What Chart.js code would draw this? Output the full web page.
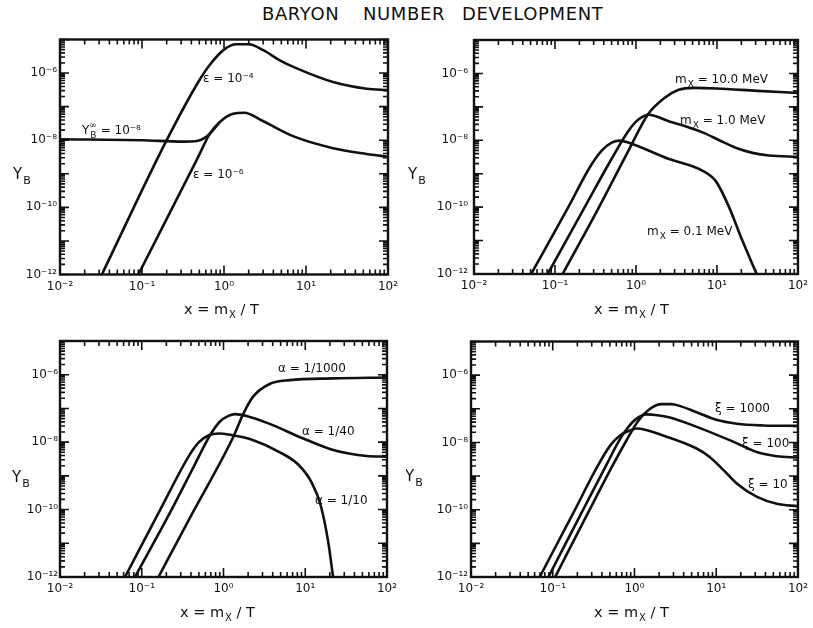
<!DOCTYPE html>
<html>
<head>
<meta charset="utf-8">
<title>Baryon number development</title>
<script src="https://cdn.jsdelivr.net/npm/chart.js@4.4.1/dist/chart.umd.min.js"></script>
<style>
  body { margin: 0; background: #fff; }
  #page { position: relative; width: 813px; height: 628px; overflow: hidden; background: #fff; }
  .word { position: absolute; top: 3px; font: 18px 'DejaVu Sans', sans-serif; letter-spacing: 0.6px; color: #111; }
  canvas { position: absolute; }
</style>
</head>
<body>
<div id="page">
  <span class="word" style="left:262px">BARYON</span>
  <span class="word" style="left:363px">NUMBER</span>
  <span class="word" style="left:462px">DEVELOPMENT</span>
  <canvas id="p1" width="406" height="300" style="left:0px;top:26px"></canvas>
  <canvas id="p2" width="407" height="300" style="left:406px;top:26px"></canvas>
  <canvas id="p3" width="406" height="302" style="left:0px;top:326px"></canvas>
  <canvas id="p4" width="407" height="302" style="left:406px;top:326px"></canvas>
</div>
<script>
// axis ticks (log-log, x = m_X/T, Y_B)
const xTicks = [0.01, 0.1, 1, 10, 100];
const xTickLabels = ['10⁻²', '10⁻¹', '10⁰', '10¹', '10²'];
const yTicks = [1e-12, 1e-10, 1e-8, 1e-6];
const yTickLabels = ['10⁻¹²', '10⁻¹⁰', '10⁻⁸', '10⁻⁶'];

// panel 1: epsilon
const eps4X = [0.0324, 0.200, 0.490, 0.676, 1.00, 1.41, 2.00, 3.02, 4.79, 7.59, 21.4, 55.0, 100];
const eps4Y = [1e-12, 1.0e-8, 5.6e-7, 1.8e-6, 5.0e-6, 7.2e-6, 7.2e-6, 4.8e-6, 2.4e-6, 1.4e-6, 5.4e-7, 3.4e-7, 3.1e-7];
const eps6X = [0.0902, 0.465, 0.676, 0.891, 1.26, 1.78, 2.82, 7.08, 21.4, 55.0, 100];
const eps6Y = [1e-12, 2.6e-9, 1.6e-8, 3.5e-8, 6.0e-8, 6.6e-8, 4.0e-8, 1.3e-8, 5.8e-9, 3.9e-9, 3.2e-9];
const yInfX = [0.01, 0.1, 0.316, 0.468, 0.575, 0.676, 0.891];
const yInfY = [1.07e-8, 1.0e-8, 9.1e-9, 9.5e-9, 1.15e-8, 1.6e-8, 3.5e-8];

// panel 2: m_X
const m01X = [0.0508, 0.149, 0.275, 0.380, 0.501, 0.631, 0.813, 2.51, 6.76, 9.77, 14.1, 20.4, 30.9];
const m01Y = [1e-12, 1.1e-10, 1.7e-9, 5.0e-9, 8.5e-9, 9.8e-9, 8.5e-9, 2.8e-9, 1.2e-9, 5.8e-10, 1.0e-10, 1.05e-11, 1e-12];
const m1X = [0.0813, 0.251, 0.501, 0.794, 1.00, 1.20, 1.42, 2.63, 4.17, 6.76, 10.7, 17.0, 27.5, 43.7, 100];
const m1Y = [1e-12, 1.4e-10, 2.8e-9, 1.8e-8, 3.6e-8, 5.0e-8, 5.8e-8, 3.6e-8, 2.6e-8, 1.7e-8, 1.0e-8, 6.0e-9, 4.2e-9, 3.5e-9, 3.2e-9];
const m10X = [0.124, 0.316, 0.794, 1.41, 2.29, 3.31, 5.25, 10, 31.6, 100];
const m10Y = [1e-12, 6.3e-11, 4.5e-9, 6.0e-8, 1.9e-7, 3.2e-7, 3.7e-7, 3.55e-7, 3.0e-7, 2.6e-7];

// panel 3: alpha
const a10X = [0.0624, 0.160, 0.380, 0.501, 0.661, 0.871, 1.20, 2.19, 4.90, 8.32, 12.0, 15.5, 19.1, 21.9];
const a10Y = [1e-12, 7.8e-11, 4.0e-9, 1.0e-8, 1.6e-8, 1.8e-8, 1.66e-8, 1.2e-8, 5.0e-9, 2.1e-9, 6.3e-10, 1.3e-10, 1.1e-11, 1e-12];
const a40X = [0.0826, 0.220, 0.447, 0.684, 0.906, 1.15, 1.38, 1.91, 3.55, 9.33, 20.0, 35.5, 56.2, 100];
const a40Y = [1e-12, 7.8e-11, 2.2e-9, 1.6e-8, 4.1e-8, 6.0e-8, 6.8e-8, 6.0e-8, 3.6e-8, 1.3e-8, 6.3e-9, 4.5e-9, 3.9e-9, 3.7e-9];
const a1000X = [0.160, 0.417, 1.32, 1.74, 2.29, 3.72, 6.46, 21.9, 100];
const a1000Y = [1e-12, 7.8e-11, 1.45e-8, 6.8e-8, 2.2e-7, 5.4e-7, 6.9e-7, 7.8e-7, 8.3e-7];

// panel 4: xi
const xi10X = [0.0692, 0.178, 0.355, 0.501, 0.676, 0.891, 1.07, 2.24, 5.75, 8.32, 12.3, 17.8, 31.6, 55.0, 100];
const xi10Y = [1e-12, 7.9e-11, 2.0e-9, 7.9e-9, 1.66e-8, 2.3e-8, 2.6e-8, 1.6e-8, 6.6e-9, 3.7e-9, 1.5e-9, 6.0e-10, 2.4e-10, 1.5e-10, 1.26e-10];
const xi100X = [0.0885, 0.224, 0.447, 0.631, 0.805, 1.05, 1.41, 2.00, 2.72, 5.78, 14.8, 31.3, 55.0, 100];
const xi100Y = [1e-12, 7.9e-11, 2.0e-9, 1.0e-8, 2.5e-8, 5.0e-8, 6.8e-8, 6.3e-8, 5.5e-8, 2.9e-8, 1.15e-8, 5.2e-9, 3.9e-9, 3.55e-9];
const xi1000X = [0.107, 0.269, 0.537, 0.794, 1.12, 1.55, 2.14, 2.82, 3.63, 5.75, 10, 17.8, 38.0, 100];
const xi1000Y = [1e-12, 7.9e-11, 2.0e-9, 1.12e-8, 4.5e-8, 1.0e-7, 1.38e-7, 1.38e-7, 1.2e-7, 7.9e-8, 4.7e-8, 3.6e-8, 3.2e-8, 3.1e-8];

Chart.defaults.font.family = "'DejaVu Sans', sans-serif";
Chart.defaults.color = '#111';

const INK = '#111';
const FONT = "'DejaVu Sans', sans-serif";

// text with sub/superscripts: parts = [[text, sub, sup], ...]
function drawRich(ctx, parts, x, y, size) {
  ctx.textBaseline = 'middle';
  ctx.textAlign = 'left';
  ctx.fillStyle = INK;
  parts.forEach(([t, sub, sup]) => {
    if (t) {
      ctx.font = size + 'px ' + FONT;
      ctx.fillText(t, x, y);
      x += ctx.measureText(t).width;
    }
    let w = 0;
    ctx.font = Math.round(size * 0.72) + 'px ' + FONT;
    if (sup) { ctx.fillText(sup, x, y - size * 0.45); w = ctx.measureText(sup).width; }
    if (sub) { ctx.fillText(sub, x + 1, y + size * 0.4); w = Math.max(w, ctx.measureText(sub).width + 1); }
    x += w;
  });
}

function makePanel(id, box, series, notes) {
  const canvas = document.getElementById(id);
  const ox = parseFloat(canvas.style.left);
  const oy = parseFloat(canvas.style.top);

  // inward frame ticks, frame and annotations
  const decor = {
    id: 'decor',
    afterDraw(chart) {
      const { ctx, chartArea: a, scales } = chart;
      ctx.save();
      ctx.strokeStyle = INK;
      ctx.lineWidth = 1.6;
      ctx.beginPath();
      for (let d = -2; d <= 2; d++) {
        for (let k = 1; k <= 9; k++) {
          const v = k * Math.pow(10, d);
          if (v > 100.5) break;
          const px = scales.x.getPixelForValue(v);
          const len = k === 1 ? 9 : 5;
          ctx.moveTo(px, a.bottom); ctx.lineTo(px, a.bottom - len);
          ctx.moveTo(px, a.top); ctx.lineTo(px, a.top + len);
        }
      }
      for (let d = -12; d <= -5; d++) {
        for (let k = 1; k <= 9; k++) {
          const v = k * Math.pow(10, d);
          if (v > 1.05e-5) break;
          const py = scales.y.getPixelForValue(v);
          const len = k === 1 ? 9 : 5;
          ctx.moveTo(a.left, py); ctx.lineTo(a.left + len, py);
          ctx.moveTo(a.right, py); ctx.lineTo(a.right - len, py);
        }
      }
      ctx.stroke();
      ctx.lineWidth = 2.4;
      ctx.strokeRect(a.left, a.top, a.right - a.left, a.bottom - a.top);
      notes.forEach(n => drawRich(ctx, n.parts, n.at[0] - ox, n.at[1] - oy, n.size || 12));
      ctx.restore();
    }
  };

  return new Chart(canvas, {
    type: 'line',
    data: {
      datasets: series.map(s => ({
        data: s[0].map((x, i) => ({ x: x, y: s[1][i] })),
        borderColor: INK,
        borderWidth: 2.6,
        pointRadius: 0,
        cubicInterpolationMode: 'monotone',
        fill: false
      }))
    },
    options: {
      responsive: false,
      animation: false,
      events: [],
      layout: { padding: { left: 0, top: box.t - oy, right: ox + canvas.width - box.r, bottom: 0 } },
      plugins: { legend: { display: false }, tooltip: { enabled: false } },
      scales: {
        x: {
          type: 'logarithmic', min: 0.01, max: 100,
          afterFit: s => { s.height = oy + canvas.height - box.b; },
          afterBuildTicks: s => { s.ticks = xTicks.map(v => ({ value: v })); },
          ticks: { callback: (v, i) => xTickLabels[i], autoSkip: false, maxRotation: 0, padding: 5, font: { size: 12 } },
          grid: { display: false, drawTicks: false },
          border: { display: false }
        },
        y: {
          type: 'logarithmic', min: 1e-12, max: 1e-5,
          afterFit: s => { s.width = box.l - ox; },
          afterBuildTicks: s => { s.ticks = yTicks.map(v => ({ value: v })); },
          ticks: { callback: (v, i) => yTickLabels[i], autoSkip: false, padding: box.pad, font: { size: 12 } },
          grid: { display: false, drawTicks: false },
          border: { display: false }
        }
      }
    },
    plugins: [decor]
  });
}

const xTitle = [['x = m', 'X'], [' / T']];
const yTitle = [['Y', 'B']];

makePanel('p1', { l: 60, t: 39.5, r: 388, b: 274.5, pad: 3 },
  [[eps4X, eps4Y], [eps6X, eps6Y], [yInfX, yInfY]],
  [
    { parts: yTitle, at: [13, 175], size: 15 },
    { parts: xTitle, at: [184, 310], size: 14.5 },
    { parts: [['ε = 10⁻⁴']], at: [203, 79] },
    { parts: [['ε = 10⁻⁶']], at: [193, 175] },
    { parts: [['Y', 'B', '∞'], [' = 10⁻⁸']], at: [82, 131] }
  ]);

makePanel('p2', { l: 474, t: 40, r: 801, b: 274, pad: 6 },
  [[m01X, m01Y], [m1X, m1Y], [m10X, m10Y]],
  [
    { parts: yTitle, at: [408, 175], size: 15 },
    { parts: xTitle, at: [594, 310], size: 14.5 },
    { parts: [['m', 'X'], [' = 10.0 MeV']], at: [675, 80] },
    { parts: [['m', 'X'], [' = 1.0 MeV']], at: [680, 121] },
    { parts: [['m', 'X'], [' = 0.1 MeV']], at: [647, 232] }
  ]);

makePanel('p3', { l: 60, t: 341, r: 387, b: 577, pad: 2 },
  [[a10X, a10Y], [a40X, a40Y], [a1000X, a1000Y]],
  [
    { parts: yTitle, at: [12, 478], size: 15 },
    { parts: xTitle, at: [180, 613], size: 14.5 },
    { parts: [['α = 1/1000']], at: [278, 369] },
    { parts: [['α = 1/40']], at: [302, 432] },
    { parts: [['α = 1/10']], at: [315, 501] }
  ]);

makePanel('p4', { l: 471, t: 341.5, r: 798, b: 577, pad: 3 },
  [[xi10X, xi10Y], [xi100X, xi100Y], [xi1000X, xi1000Y]],
  [
    { parts: yTitle, at: [405, 477], size: 15 },
    { parts: xTitle, at: [594, 613], size: 14.5 },
    { parts: [['ξ = 1000']], at: [715, 409] },
    { parts: [['ξ = 100']], at: [742, 444] },
    { parts: [['ξ = 10']], at: [748, 485] }
  ]);
</script>
</body>
</html>
